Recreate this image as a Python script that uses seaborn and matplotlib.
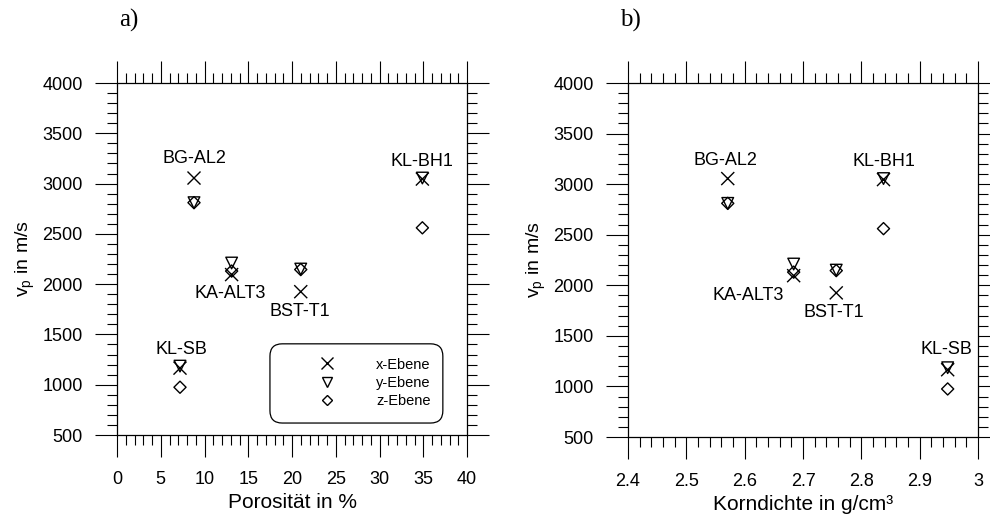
import matplotlib
matplotlib.use("Agg")
import pandas as pd
import matplotlib.pyplot as plt
from matplotlib.markers import MarkerStyle
from matplotlib.patches import FancyBboxPatch
from matplotlib.lines import Line2D
from matplotlib.ticker import MultipleLocator, FuncFormatter
import seaborn as sns

# data
samples = ["BG-AL2", "KL-BH1", "KA-ALT3", "BST-T1", "KL-SB"]
porosity = [8.8, 34.9, 13.1, 21.0, 7.2]          # %
density = [2.571, 2.838, 2.684, 2.757, 2.948]    # g/cm3
vp_x = [3055, 3045, 2095, 1925, 1165]            # m/s
vp_y = [2810, 3055, 2210, 2150, 1185]
vp_z = [2810, 2560, 2130, 2145, 975]
planes = ["x-Ebene", "y-Ebene", "z-Ebene"]

rows = []
for plane, vals in zip(planes, [vp_x, vp_y, vp_z]):
    for s, p, d, v in zip(samples, porosity, density, vals):
        rows.append({"Probe": s, "Porositaet": p, "Korndichte": d, "Ebene": plane, "vp": v})
df = pd.DataFrame(rows)

# styling
marker_map = {"x-Ebene": "x", "y-Ebene": "v", "z-Ebene": "D"}
size_map = {"x-Ebene": 88, "y-Ebene": 70, "z-Ebene": 38}
# label offsets in pixels (dx, dy, ha)
offs_a = {"BG-AL2": (0, 20, "center"), "KL-BH1": (0, 18, "center"), "KA-ALT3": (-1, -19, "center"),
          "BST-T1": (-1, -20, "center"), "KL-SB": (1, 19, "center")}
offs_b = {"BG-AL2": (-2, 18, "center"), "KL-BH1": (0, 18, "center"), "KA-ALT3": (-10, -20, "right"),
          "BST-T1": (-2, -20, "center"), "KL-SB": (-1, 20, "center")}

sns.set_theme(style="ticks")
plt.rcParams["font.family"] = ["Liberation Sans", "DejaVu Sans"]
plt.rcParams["mathtext.fontset"] = "custom"
plt.rcParams["mathtext.rm"] = "Liberation Sans"
plt.rcParams["axes.edgecolor"] = "black"
plt.rcParams["axes.linewidth"] = 0.9
plt.rcParams["text.color"] = "black"
plt.rcParams["axes.labelcolor"] = "black"
plt.rcParams["xtick.color"] = "black"
plt.rcParams["ytick.color"] = "black"

fig = plt.figure(figsize=(9.9, 5.25), dpi=100)
ax_a = fig.add_axes([117 / 990, 1 - 435 / 525, 350 / 990, 352 / 525])
ax_b = fig.add_axes([628 / 990, 1 - 437 / 525, 350 / 990, 354 / 525])


def draw(ax, xcol, offs):
    for plane in planes:
        sub = df[df["Ebene"] == plane]
        sns.scatterplot(data=sub, x=xcol, y="vp", ax=ax, legend=False,
                        marker=MarkerStyle(marker_map[plane], fillstyle="none"),
                        color="black", s=size_map[plane], linewidth=1.0, zorder=3)
    sub = df[df["Ebene"] == "x-Ebene"]
    for _, r in sub.iterrows():
        dx, dy, ha = offs[r["Probe"]]
        ax.annotate(r["Probe"], (r[xcol], r["vp"]), xytext=(dx, dy),
                    textcoords="offset pixels", ha=ha, va="center", fontsize=13)
    ax.set_ylim(500, 4000)
    ax.yaxis.set_major_locator(MultipleLocator(500))
    ax.yaxis.set_minor_locator(MultipleLocator(100))
    ax.tick_params(which="both", direction="out", top=True, right=True,
                   color="black", width=0.8, labelsize=13)
    ax.tick_params(which="major", length=15.8)
    ax.tick_params(which="minor", length=7.2)
    ax.tick_params(axis="x", pad=10)
    ax.tick_params(axis="y", pad=9)
    ax.set_ylabel("v$_\\mathrm{p}$ in m/s", fontsize=14, labelpad=4)


draw(ax_a, "Porositaet", offs_a)
ax_a.set_xlim(0, 40)
ax_a.xaxis.set_major_locator(MultipleLocator(5))
ax_a.xaxis.set_minor_locator(MultipleLocator(1))
ax_a.set_xlabel("Porosität in %", fontsize=15, labelpad=4)

draw(ax_b, "Korndichte", offs_b)
ax_b.set_xlim(2.4, 3.0)
ax_b.xaxis.set_major_locator(MultipleLocator(0.1))
ax_b.xaxis.set_minor_locator(MultipleLocator(0.02))
ax_b.xaxis.set_major_formatter(FuncFormatter(lambda v, _: f"{round(v, 2):g}"))
ax_b.set_xlabel("Korndichte in g/cm³", fontsize=15, labelpad=4)

# legend in panel a
box = FancyBboxPatch((0.437, 0.034), 0.494, 0.225, transform=ax_a.transAxes,
                     boxstyle="round,pad=0,rounding_size=0.035",
                     facecolor="white", edgecolor="black", linewidth=0.9, zorder=2)
ax_a.add_patch(box)
handles = [Line2D([], [], linestyle="none", marker="x", markersize=8, color="black", markeredgewidth=1.0),
           Line2D([], [], linestyle="none", marker="v", markersize=6.5, color="black",
                  markerfacecolor="none", markeredgewidth=1.0),
           Line2D([], [], linestyle="none", marker="D", markersize=5.2, color="black",
                  markerfacecolor="none", markeredgewidth=1.0)]
leg = ax_a.legend(handles, planes, loc="center left", bbox_to_anchor=(0.569, 0.148),
                  frameon=False, borderpad=0, borderaxespad=0, handlelength=1.5,
                  handletextpad=2.6, labelspacing=0.3, fontsize=10.5)
leg.set_zorder(4)

fig.text(129 / 990, 1 - 20 / 525, "a)", family="Liberation Serif", fontsize=18, ha="center", va="center")
fig.text(630 / 990, 1 - 20 / 525, "b)", family="Liberation Serif", fontsize=18, ha="center", va="center")

fig.savefig("out.png", dpi=100)
